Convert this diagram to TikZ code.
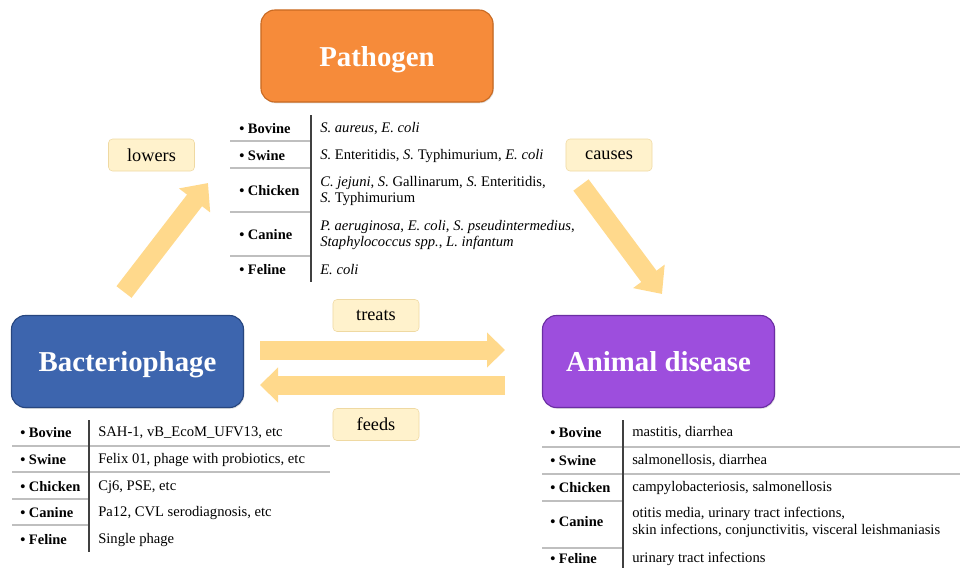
\documentclass[tikz,border=0pt]{standalone}
\usepackage{fontspec}
\setmainfont{Liberation Serif}
\usepackage{xcolor}
\usepackage{tikz}
\usetikzlibrary{arrows.meta,positioning,shadows}

\definecolor{pathorange}{HTML}{F68B3A}
\definecolor{pathedge}{HTML}{C96A22}
\definecolor{phageblue}{HTML}{3D65AE}
\definecolor{phageedge}{HTML}{27467F}
\definecolor{dispurple}{HTML}{9D4EDD}
\definecolor{disedge}{HTML}{6B2EA3}
\definecolor{tagfill}{HTML}{FFF2CC}
\definecolor{tagedge}{HTML}{EFD9A2}
\definecolor{flowfill}{HTML}{FFD98C}

\begin{document}
\begin{tikzpicture}[x=0.025cm, y=-0.025cm,
    bigbox/.style={rectangle, rounded corners=0.35cm, draw, line width=0.8pt, minimum width=5.8cm, minimum height=2.3cm, text depth=0pt, text=white, font=\bfseries\fontsize{20.5}{24}\selectfont, drop shadow={opacity=0.25, shadow xshift=0.6pt, shadow yshift=-0.9pt}},
    tag/.style={rectangle, rounded corners=0.1cm, draw=tagedge, fill=tagfill, minimum width=2.15cm, minimum height=0.8cm, font=\fontsize{13}{15}\selectfont},
    flow/.style={line width=0.475cm, draw=flowfill, -{Triangle[length=0.45cm, width=0.85cm]}},
    flowdiag/.style={flow, -{Triangle[length=0.55cm, width=0.95cm]}},
    animal/.style={anchor=west, inner sep=0pt, font=\bfseries\fontsize{10.3}{12}\selectfont},
    entry/.style={anchor=west, inner sep=0pt, align=left, font=\fontsize{10.4}{12}\selectfont},
    colline/.style={draw=black!75, line width=1.1pt},
    rowline/.style={draw=black!25, line width=0.9pt}
]
\useasboundingbox (0,0) rectangle (960,568);

% Main boxes
\node[bigbox, fill=pathorange, draw=pathedge] (pathogen) at (377,56) {Pathogen};
\node[bigbox, fill=phageblue, draw=phageedge] (phage) at (127.5,361.5) {Bacteriophage};
\node[bigbox, fill=dispurple, draw=disedge] (disease) at (658.5,361.5) {Animal disease};

% Block arrows
\coordinate (lowTail) at (124,292);
\coordinate (lowHead) at (208,183);
\coordinate (cauTail) at (581,185);
\coordinate (cauHead) at (662,294);
\coordinate (treTail) at (260,350);
\coordinate (treHead) at (505,350);
\coordinate (feeTail) at (505,385);
\coordinate (feeHead) at (260,385);
\draw[flowdiag] (lowTail) -- (lowHead);
\draw[flowdiag] (cauTail) -- (cauHead);
\draw[flow] (treTail) -- (treHead);
\draw[flow] (feeTail) -- (feeHead);

% Arrow labels
\node[tag] (lowers) at (151.5,155) {lowers};
\node[tag] (causes) at (609,155) {causes};
\node[tag] (treats) at (376,315.5) {treats};
\node[tag] (feeds) at (376,424.5) {feeds};

% Pathogen table
\draw[rowline] (230,141) -- (311,141);
\draw[rowline] (230,168) -- (311,168);
\draw[rowline] (230,212) -- (311,212);
\draw[rowline] (230,256) -- (311,256);
\draw[colline] (311,115) -- (311,282);
\node[animal] (pBov) at (239,129) {• Bovine};
\node[animal] (pSwi) at (239,156) {• Swine};
\node[animal] (pChi) at (239,191) {• Chicken};
\node[animal] (pCan) at (239,235) {• Canine};
\node[animal] (pFel) at (239,270) {• Feline};
\node[entry] (pBovTx) at (320,129) {\textit{S. aureus}, \textit{E. coli}};
\node[entry] (pSwiTx) at (320,156) {\textit{S.} Enteritidis, \textit{S.} Typhimurium, \textit{E. coli}};
\node[entry] (pChiTx) at (320,191) {\textit{C. jejuni}, \textit{S.} Gallinarum, \textit{S.} Enteritidis,\\\textit{S.} Typhimurium};
\node[entry] (pCanTx) at (320,235) {\textit{P. aeruginosa}, \textit{E. coli}, \textit{S. pseudintermedius},\\\textit{Staphylococcus spp.}, \textit{L. infantum}};
\node[entry] (pFelTx) at (320,270) {\textit{E. coli}};

% Bacteriophage table
\draw[rowline] (12,446) -- (330,446);
\draw[rowline] (12,472) -- (330,472);
\draw[rowline] (12,499) -- (89,499);
\draw[rowline] (12,525) -- (89,525);
\draw[colline] (89,420) -- (89,552);
\node[animal] (bBov) at (20,433) {• Bovine};
\node[animal] (bSwi) at (20,460) {• Swine};
\node[animal] (bChi) at (20,487) {• Chicken};
\node[animal] (bCan) at (20,513) {• Canine};
\node[animal] (bFel) at (20,540) {• Feline};
\node[entry] (bBovTx) at (98,433) {SAH-1, vB\_EcoM\_UFV13, etc};
\node[entry] (bSwiTx) at (98,460) {Felix 01, phage with probiotics, etc};
\node[entry] (bChiTx) at (98,487) {Cj6, PSE, etc};
\node[entry] (bCanTx) at (98,513) {Pa12, CVL serodiagnosis, etc};
\node[entry] (bFelTx) at (98,540) {Single phage};

% Animal disease table
\draw[rowline] (542,447) -- (960,447);
\draw[rowline] (542,474) -- (960,474);
\draw[rowline] (542,501) -- (623,501);
\draw[rowline] (542,548) -- (623,548);
\draw[colline] (623,420) -- (623,568);
\node[animal] (dBov) at (550,433) {• Bovine};
\node[animal] (dSwi) at (550,461) {• Swine};
\node[animal] (dChi) at (550,488) {• Chicken};
\node[animal] (dCan) at (550,522) {• Canine};
\node[animal] (dFel) at (550,559) {• Feline};
\node[entry] (dBovTx) at (632,433) {mastitis, diarrhea};
\node[entry] (dSwiTx) at (632,461) {salmonellosis, diarrhea};
\node[entry] (dChiTx) at (632,488) {campylobacteriosis, salmonellosis};
\node[entry] (dCanTx) at (632,522) {otitis media, urinary tract infections,\\skin infections, conjunctivitis, visceral leishmaniasis};
\node[entry] (dFelTx) at (632,559) {urinary tract infections};

\end{tikzpicture}
\end{document}
